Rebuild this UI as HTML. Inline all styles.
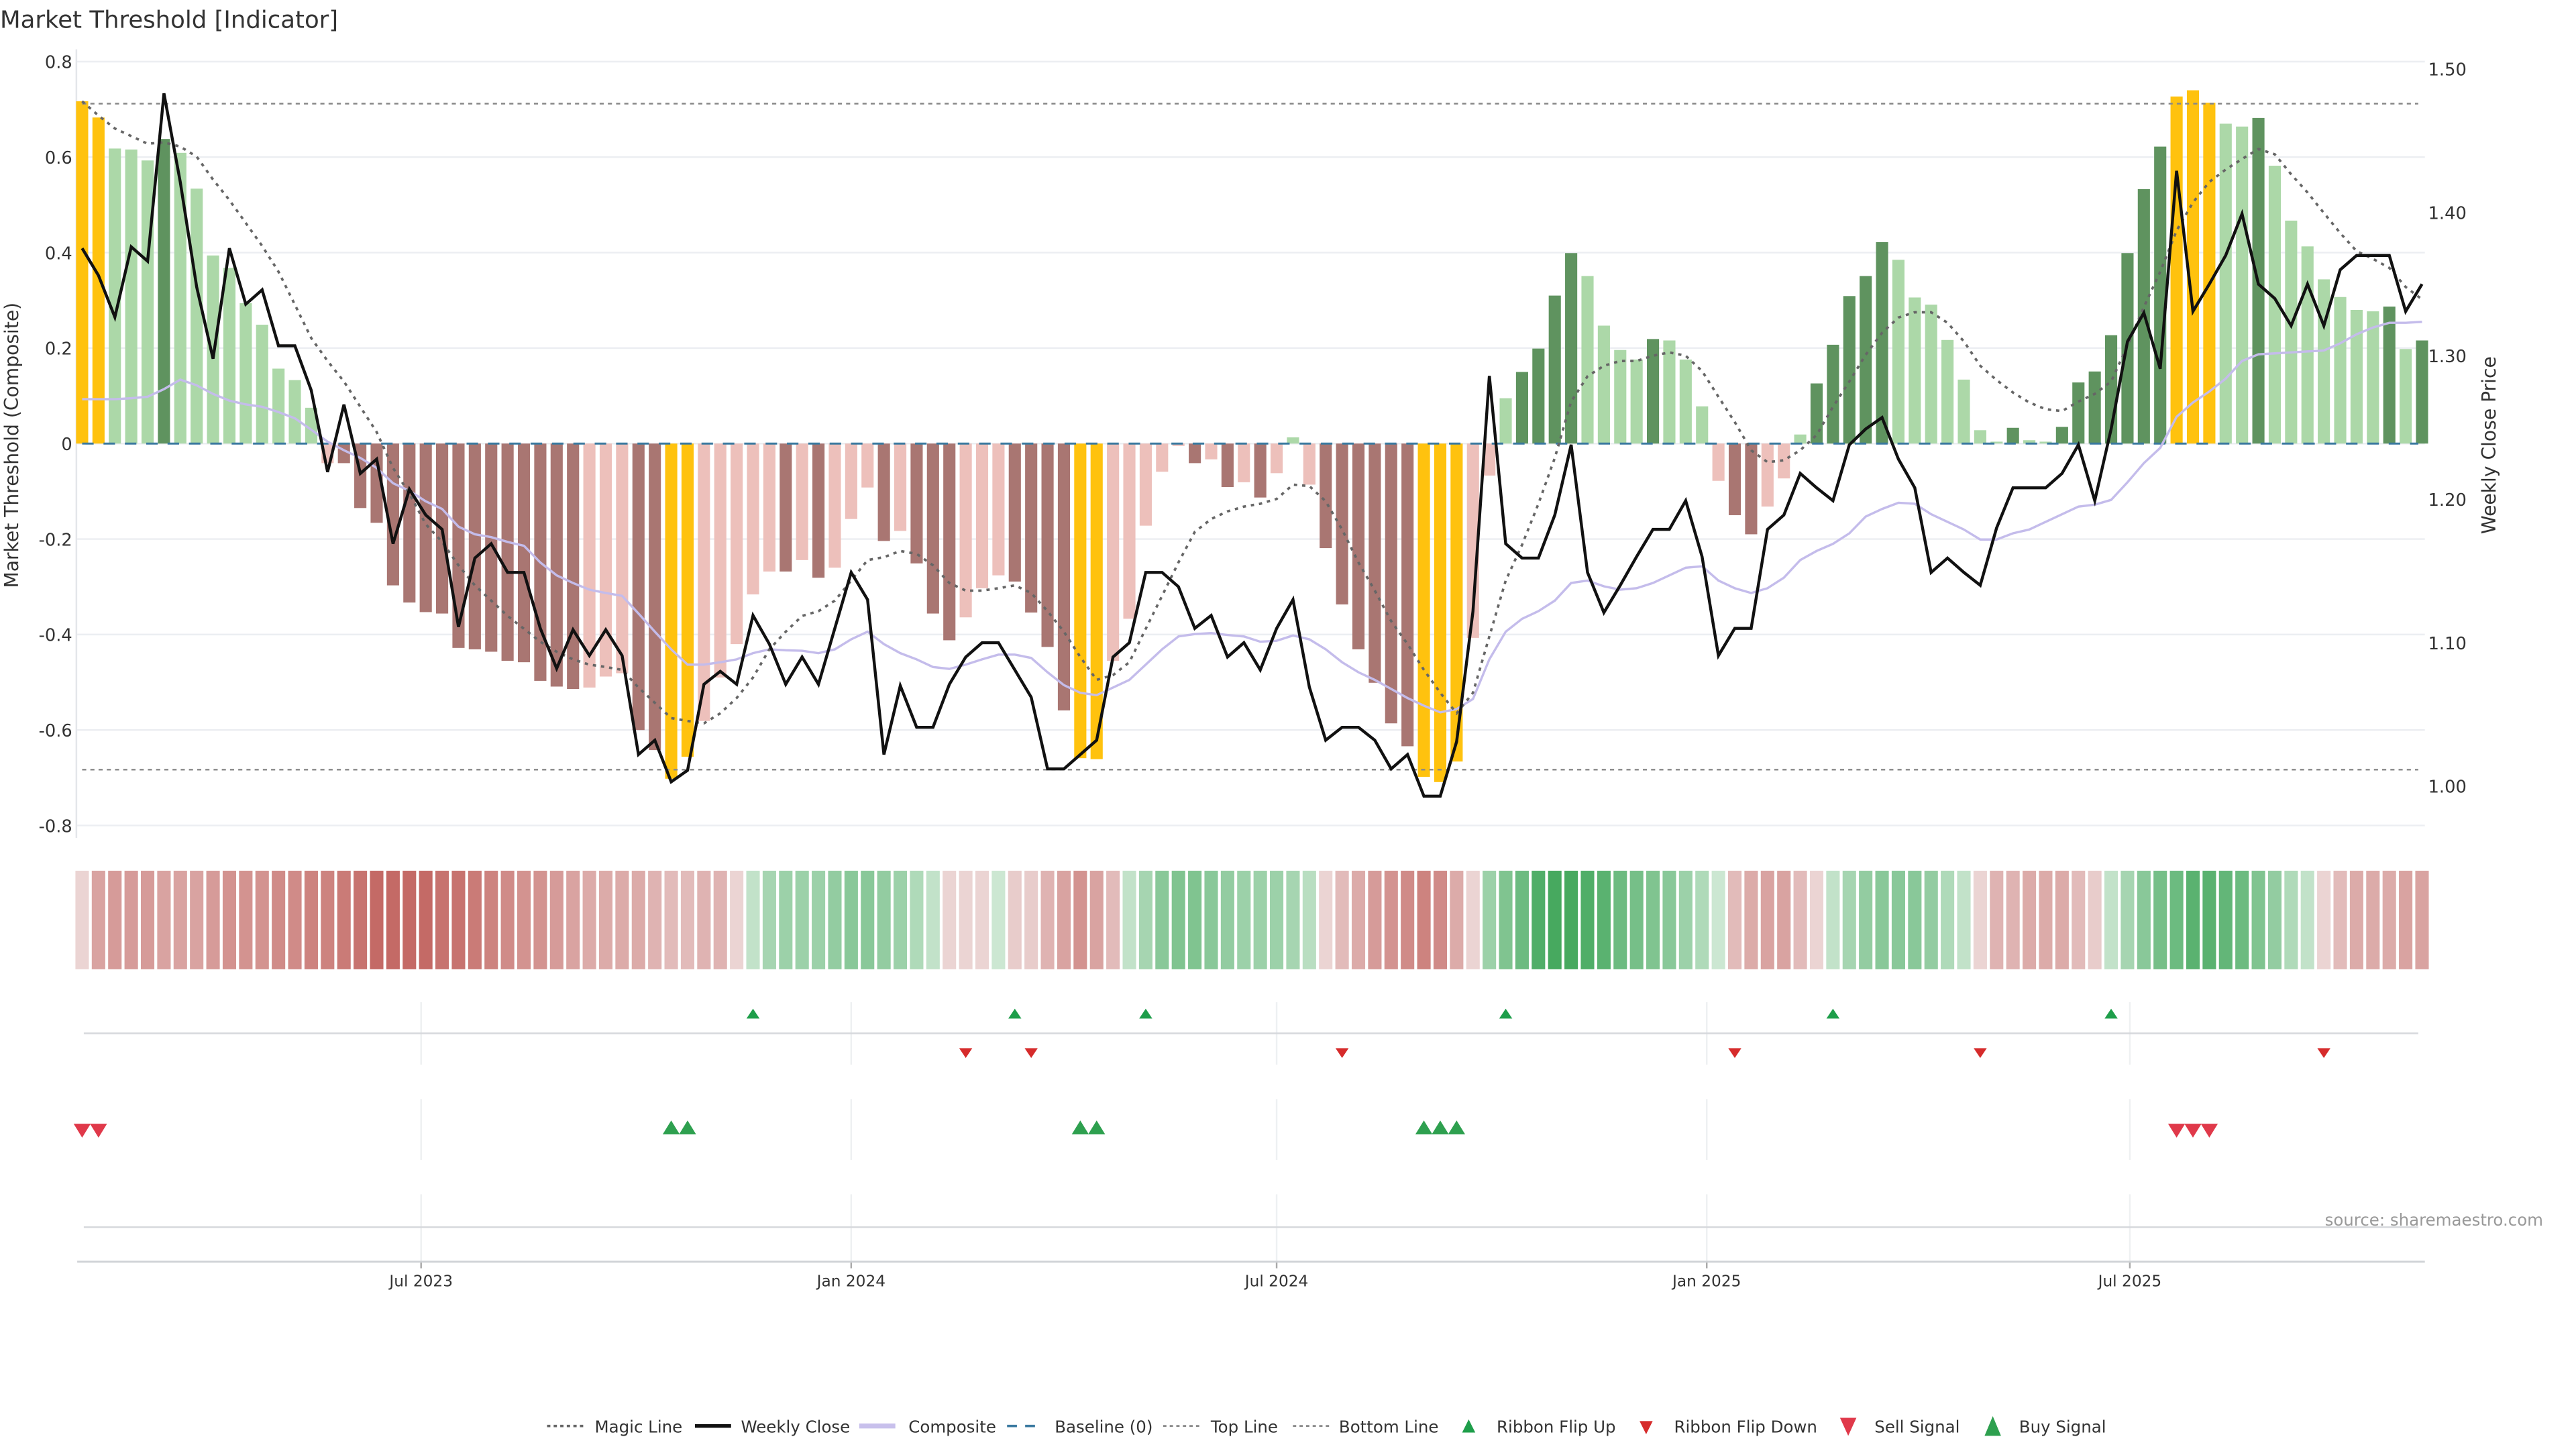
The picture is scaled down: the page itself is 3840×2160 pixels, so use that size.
<!DOCTYPE html>
<html><head><meta charset="utf-8"><title>Market Threshold [Indicator]</title>
<style>
html,body{margin:0;padding:0;background:#fff;}
svg{display:block;font-family:"DejaVu Sans","Liberation Sans",sans-serif;}
</style></head>
<body>
<svg id="chart" xmlns="http://www.w3.org/2000/svg" width="3840" height="2160" viewBox="0 0 1568 882" preserveAspectRatio="none">
  <rect x="0" y="0" width="1568" height="882" fill="#ffffff"/>
  <text x="0" y="17" font-size="14.5" fill="#333">Market Threshold [Indicator]</text>
  <text transform="translate(11,271) rotate(-90)" text-anchor="middle" font-size="11.5" fill="#333">Market Threshold (Composite)</text>
  <text transform="translate(1519,271) rotate(-90)" text-anchor="middle" font-size="11.5" fill="#333">Weekly Close Price</text>
  <text x="1548" y="746" text-anchor="end" font-size="10" fill="#999">source: sharemaestro.com</text>
  <g id="grid"></g>
  <g id="bars"></g>
  <g id="lines"></g>
  <g id="heat"></g>
  <g id="signals"></g>
  <g id="axes"></g>
  <g id="legend" font-size="10" fill="#333">
    <g><line x1="333" y1="868" x2="355" y2="868" stroke="#666" stroke-width="1.5" stroke-dasharray="2,2"/><text x="362" y="872">Magic Line</text></g>
    <g><line x1="423" y1="868" x2="445" y2="868" stroke="#111" stroke-width="2.2"/><text x="451" y="872">Weekly Close</text></g>
    <g><line x1="523" y1="868" x2="545" y2="868" stroke="#c8c0ec" stroke-width="3"/><text x="553" y="872">Composite</text></g>
    <g><line x1="613" y1="868" x2="635" y2="868" stroke="#3b7aa0" stroke-width="1.5" stroke-dasharray="6,5"/><text x="642" y="872">Baseline (0)</text></g>
    <g><line x1="708" y1="868" x2="730" y2="868" stroke="#888" stroke-width="1.2" stroke-dasharray="2,2"/><text x="737" y="872">Top Line</text></g>
    <g><line x1="787" y1="868" x2="809" y2="868" stroke="#888" stroke-width="1.2" stroke-dasharray="2,2"/><text x="815" y="872">Bottom Line</text></g>
    <g><polygon points="890,872 898,872 894,864" fill="#1e9e4a"/><text x="911" y="872">Ribbon Flip Up</text></g>
    <g><polygon points="998,865 1006,865 1002,873" fill="#d62b2b"/><text x="1019" y="872">Ribbon Flip Down</text></g>
    <g><polygon points="1120,863 1130,863 1125,874" fill="#e0394a"/><text x="1141" y="872">Sell Signal</text></g>
    <g><polygon points="1208,874 1218,874 1213,862" fill="#2ea04f"/><text x="1229" y="872">Buy Signal</text></g>
  </g>
</svg>
<script>
const barValues = [0.717,0.683,0.618,0.616,0.593,0.638,0.609,0.534,0.394,0.368,0.294,0.249,0.157,0.133,0.075,-0.041,-0.041,-0.135,-0.166,-0.297,-0.333,-0.353,-0.356,-0.428,-0.431,-0.436,-0.455,-0.458,-0.497,-0.509,-0.514,-0.511,-0.488,-0.481,-0.600,-0.642,-0.702,
-0.656,-0.581,-0.490,-0.420,-0.316,-0.268,-0.268,-0.244,-0.281,-0.260,-0.158,-0.092,-0.204,-0.183,-0.251,-0.356,-0.412,-0.364,-0.303,-0.276,-0.289,-0.354,-0.426,-0.559,-0.659,-0.661,-0.455,-0.367,-0.172,-0.059,-0.005,-0.041,-0.033,-0.091,-0.081,-0.113,-0.062,
0.013,-0.086,-0.219,-0.337,-0.431,-0.501,-0.586,-0.634,-0.698,-0.709,-0.666,-0.407,-0.067,0.095,0.150,0.199,0.310,0.399,0.351,0.247,0.196,0.176,0.219,0.216,0.176,0.078,-0.078,-0.150,-0.190,-0.132,-0.073,0.019,0.126,0.207,0.309,0.351,
0.422,0.385,0.306,0.291,0.217,0.134,0.028,0.004,0.033,0.007,0.004,0.035,0.128,0.151,0.227,0.399,0.533,0.622,0.727,0.740,0.714,0.670,0.664,0.682,0.582,0.467,0.413,0.344,0.307,0.280,0.277,0.287,0.198,0.216];
const barTypes = ("YYGGGDGGGGGGGGG"+"PRRRRRRRRRRRRRRR"+"PPPRR"+"YY"+"PPPPP"+"RPRPPP"+"RPRRRPPP"+"RRRR"+"YY"+"PPPPP"+"RPRPRP"+"GP"+"RRRRRR"+"YYY"+"PP"+"GDDDD"+"GGGG"+"DGGG"+"PRRPP"+"GDDDDD"+"GGGGGGG"+"D"+"GG"+"DDDDDDD"+"YYY"+"GG"+"D"+"GGGGGGG"+"DGD").split("");
const weeklyClose = [1.375,1.356,1.327,1.376,1.366,1.483,1.421,1.348,1.298,1.375,1.336,1.346,1.307,1.307,1.276,1.219,1.266,1.218,1.228,1.169,1.207,1.189,1.179,1.111,1.159,1.169,1.149,1.149,1.110,1.082,1.109,1.091,1.109,1.091,1.022,1.032,1.003,
1.011,1.071,1.080,1.071,1.119,1.099,1.071,1.090,1.071,1.110,1.149,1.130,1.022,1.070,1.041,1.041,1.071,1.090,1.100,1.100,1.081,1.062,1.012,1.012,1.022,1.032,1.090,1.100,1.149,1.149,1.139,1.110,1.119,1.090,1.100,1.081,1.110,
1.130,1.069,1.032,1.041,1.041,1.032,1.012,1.022,0.993,0.993,1.031,1.122,1.286,1.169,1.159,1.159,1.189,1.238,1.149,1.121,1.140,1.160,1.179,1.179,1.199,1.160,1.091,1.110,1.110,1.179,1.189,1.218,1.208,1.199,1.238,1.249,
1.257,1.228,1.208,1.149,1.159,1.149,1.140,1.180,1.208,1.208,1.208,1.218,1.238,1.199,1.249,1.310,1.330,1.291,1.429,1.331,1.350,1.370,1.399,1.350,1.340,1.321,1.350,1.321,1.360,1.370,1.370,1.370,1.331,1.350];
const compositeLine = [0.093,0.093,0.093,0.095,0.098,0.114,0.134,0.122,0.104,0.090,0.082,0.077,0.066,0.053,0.029,0.004,-0.014,-0.030,-0.051,-0.083,-0.099,-0.121,-0.137,-0.174,-0.190,-0.196,-0.206,-0.214,-0.249,-0.276,-0.292,-0.306,-0.313,-0.319,-0.356,-0.394,-0.431,
-0.463,-0.463,-0.458,-0.452,-0.439,-0.431,-0.433,-0.434,-0.439,-0.431,-0.410,-0.394,-0.420,-0.439,-0.452,-0.468,-0.472,-0.463,-0.452,-0.442,-0.442,-0.449,-0.479,-0.506,-0.522,-0.527,-0.511,-0.495,-0.463,-0.431,-0.404,-0.399,-0.397,-0.401,-0.404,-0.415,-0.413,
-0.402,-0.410,-0.431,-0.458,-0.479,-0.495,-0.514,-0.533,-0.549,-0.563,-0.556,-0.535,-0.452,-0.394,-0.367,-0.351,-0.329,-0.292,-0.287,-0.299,-0.306,-0.303,-0.292,-0.276,-0.260,-0.257,-0.287,-0.303,-0.313,-0.303,-0.281,-0.244,-0.225,-0.210,-0.188,-0.153,
-0.137,-0.124,-0.126,-0.148,-0.164,-0.180,-0.201,-0.201,-0.188,-0.180,-0.164,-0.148,-0.132,-0.128,-0.118,-0.081,-0.041,-0.009,0.056,0.086,0.109,0.136,0.173,0.187,0.189,0.191,0.193,0.195,0.210,0.229,0.243,0.253,0.253,0.255];
const magicLine = [0.717,0.687,0.660,0.644,0.628,0.631,0.622,0.601,0.553,0.510,0.462,0.414,0.360,0.291,0.221,0.173,0.130,0.077,0.024,-0.051,-0.105,-0.169,-0.206,-0.255,-0.297,-0.329,-0.361,-0.388,-0.415,-0.436,-0.452,-0.463,-0.468,-0.474,-0.511,-0.543,-0.575,
-0.581,-0.586,-0.565,-0.533,-0.490,-0.431,-0.394,-0.361,-0.351,-0.329,-0.287,-0.244,-0.238,-0.225,-0.231,-0.255,-0.292,-0.308,-0.308,-0.303,-0.297,-0.313,-0.351,-0.394,-0.447,-0.495,-0.485,-0.458,-0.388,-0.319,-0.249,-0.185,-0.158,-0.142,-0.132,-0.126,-0.116,
-0.086,-0.089,-0.121,-0.180,-0.249,-0.308,-0.372,-0.420,-0.474,-0.522,-0.565,-0.522,-0.404,-0.287,-0.212,-0.126,-0.030,0.088,0.141,0.163,0.173,0.173,0.184,0.191,0.184,0.152,0.098,0.045,-0.014,-0.039,-0.035,-0.014,0.018,0.077,0.130,0.186,
0.232,0.264,0.275,0.275,0.253,0.214,0.163,0.133,0.107,0.086,0.072,0.068,0.088,0.104,0.130,0.205,0.286,0.360,0.446,0.505,0.548,0.574,0.596,0.617,0.606,0.564,0.526,0.483,0.441,0.403,0.387,0.368,0.328,0.302];
const ribbonHeat = [-0.15,-0.45,-0.5,-0.5,-0.5,-0.45,-0.45,-0.45,-0.5,-0.55,-0.55,-0.55,-0.6,-0.6,-0.65,-0.65,-0.7,-0.75,-0.8,-0.8,-0.8,-0.8,-0.75,-0.75,-0.7,-0.65,-0.6,-0.55,-0.55,-0.5,-0.45,-0.4,-0.4,-0.4,-0.4,-0.35,-0.3,-0.3,
-0.35,-0.35,-0.15,0.2,0.35,0.4,0.4,0.4,0.45,0.5,0.5,0.45,0.4,0.3,0.2,-0.15,-0.15,-0.15,0.15,-0.2,-0.2,-0.35,-0.45,-0.55,-0.45,-0.3,0.2,0.35,0.5,0.55,0.55,0.5,0.45,0.4,0.4,0.4,0.35,0.25,-0.15,-0.3,-0.4,-0.5,-0.55,-0.6,-0.65,-0.6,-0.4,-0.15,0.4,0.55,0.65,0.8,0.85,0.85,0.8,
0.75,0.65,0.6,0.55,0.5,0.4,0.3,0.15,-0.3,-0.4,-0.45,-0.45,-0.3,-0.15,0.2,0.35,0.45,0.5,0.5,0.5,0.45,0.3,0.2,-0.15,-0.35,-0.35,-0.4,-0.4,-0.4,-0.3,-0.2,0.2,0.35,0.5,0.6,0.65,0.75,0.75,0.7,0.65,0.55,0.45,0.3,0.2,-0.15,-0.3,-0.4,-0.4,-0.4,-0.45,-0.45];
const flipUpIdx = [41,57,65,87,107,124];
const flipDownIdx = [54,58,77,101,116,137];
const sellIdx = [0,1,128,129,130];
const buyIdx = [36,37,61,62,82,83,84];
const leftTicks = [0.8,0.6,0.4,0.2,0,-0.2,-0.4,-0.6,-0.8];
const leftTickLabels = ["0.8","0.6","0.4","0.2","0","-0.2","-0.4","-0.6","-0.8"];
const rightTicks = [1.5,1.4,1.3,1.2,1.1,1.0];
const rightTickLabels = ["1.50","1.40","1.30","1.20","1.10","1.00"];
const topLineValue = 0.712;
const bottomLineValue = -0.683;
const startDate = "2023-02-06";
const dateTicks = ["2023-07-01","2024-01-01","2024-07-01","2025-01-01","2025-07-01"];
const dateTickLabels = ["Jul 2023","Jan 2024","Jul 2024","Jan 2025","Jul 2025"];

const NS = "http://www.w3.org/2000/svg";
const X0 = 50, STEP = 9.96, PL = 47, PR = 1476;
function xAt(i){ return X0 + i*STEP; }
function xDate(d){ const days=(Date.parse(d)-Date.parse(startDate))/86400000; return X0 + days/7*STEP; }
function yL(v){ return 270 - v*290.6; }
function yR(p){ return 42 + (1.5-p)*873; }
function mk(tag, attrs, parent){ const e=document.createElementNS(NS,tag); for(const k in attrs) e.setAttribute(k,attrs[k]); parent.appendChild(e); return e; }
const G = id => document.getElementById(id);
const typeColor = {Y:"#ffc20e",G:"#acd8a8",D:"#5f935f",R:"#a97672",P:"#edc0bb"};
function mix(a,b,t){ return "rgb("+[0,1,2].map(k=>Math.round(a[k]*(1-t)+b[k]*t)).join(",")+")"; }

const grid=G("grid"), axes=G("axes");
leftTicks.forEach((v,i)=>{
  const gl=mk("line",{x1:PL,x2:PR,y1:yL(v),y2:yL(v),stroke:"#eceef2","stroke-width":1},grid);
  
  
  const t=mk("text",{x:44,y:yL(v)+4,"text-anchor":"end","font-size":"10.5",fill:"#333"},axes);
  t.textContent=leftTickLabels[i];
  
  
});
rightTicks.forEach((p,i)=>{
  const t=mk("text",{x:1478,y:yR(p)+4,"font-size":"10.5",fill:"#333"},axes);
  t.textContent=rightTickLabels[i];
  
  
});
const ls=mk("line",{x1:46.5,x2:46.5,y1:30,y2:510,stroke:"#e4e6ea","stroke-width":1},grid);



const bars=G("bars");
barValues.forEach((v,i)=>{
  const y0=yL(0), y1=yL(v);
  const r=mk("rect",{x:xAt(i)-3.7,width:7.4,y:Math.min(y0,y1),height:Math.abs(y1-y0),fill:typeColor[barTypes[i]]},bars);
  
  
});

const lines=G("lines");
function hline(v,name,attrs){ const l=mk("line",Object.assign({x1:X0,x2:1472,y1:yL(v),y2:yL(v)},attrs),lines);   }
hline(topLineValue,'top-line',{stroke:"#888","stroke-width":1,"stroke-dasharray":"2.5,2.5"});
hline(bottomLineValue,'bottom-line',{stroke:"#888","stroke-width":1,"stroke-dasharray":"2.5,2.5"});
hline(0,'baseline-zero',{stroke:"#3b7aa0","stroke-width":1.2,"stroke-dasharray":"7,6"});
function path(arr,fy){ return arr.map((v,i)=>(i?"L":"M")+xAt(i).toFixed(2)+","+fy(v).toFixed(2)).join(""); }
const pc=mk("path",{d:path(compositeLine,yL),fill:"none",stroke:"#c4bceb","stroke-width":1.4},lines);


const pm=mk("path",{d:path(magicLine,yL),fill:"none",stroke:"#666","stroke-width":1.5,"stroke-dasharray":"2,3"},lines);


const pw=mk("path",{d:path(weeklyClose,yR),fill:"none",stroke:"#111","stroke-width":1.8,"stroke-linejoin":"miter"},lines);



const heat=G("heat");
ribbonHeat.forEach((h,i)=>{
  const c = h<0 ? mix([244,236,236],[184,74,69],-h) : mix([232,244,234],[42,156,71],h);
  const r=mk("rect",{x:xAt(i)-4.1,width:8.2,y:530,height:60,fill:c},heat);
  
  
});

const sig=G("signals");
dateTicks.forEach((d,i)=>{
  const x=xDate(d);
  [[610,648],[669,706],[727,768]].forEach(([a,b])=>{
    const l=mk("line",{x1:x,x2:x,y1:a,y2:b,stroke:"#eef0f2","stroke-width":1},sig);
    
    
  });
  const tk=mk("line",{x1:x,x2:x,y1:768,y2:772,stroke:"#aaa","stroke-width":1},axes);
  
  
  const t=mk("text",{x:x,y:783,"text-anchor":"middle","font-size":"9.5",fill:"#333"},axes);
  t.textContent=dateTickLabels[i];
  
  
});
[[629,'ribbon-row-line'],[747,'extra-row-line']].forEach(([y,n])=>{
  const l=mk("line",{x1:51,x2:1472,y1:y,y2:y,stroke:"#d6d8dc","stroke-width":1},sig);
  
  
});
const ax=mk("line",{x1:PL,x2:PR,y1:768,y2:768,stroke:"#cfd2d6","stroke-width":1.2},axes);


flipUpIdx.forEach(i=>{ const x=xAt(i);
  const p=mk("polygon",{points:(x-4)+",620 "+(x+4)+",620 "+x+",614",fill:"#1e9e4a"},sig);
  
   });
flipDownIdx.forEach(i=>{ const x=xAt(i);
  const p=mk("polygon",{points:(x-4)+",638 "+(x+4)+",638 "+x+",644",fill:"#d62b2b"},sig);
  
   });
sellIdx.forEach(i=>{ const x=xAt(i);
  const p=mk("polygon",{points:(x-5.2)+",684 "+(x+5.2)+",684 "+x+",692.5",fill:"#e0394a"},sig);
  
   });
buyIdx.forEach(i=>{ const x=xAt(i);
  const p=mk("polygon",{points:(x-5.2)+",690.5 "+(x+5.2)+",690.5 "+x+",682",fill:"#2ea04f"},sig);
  
   });
</script>
</body></html>
